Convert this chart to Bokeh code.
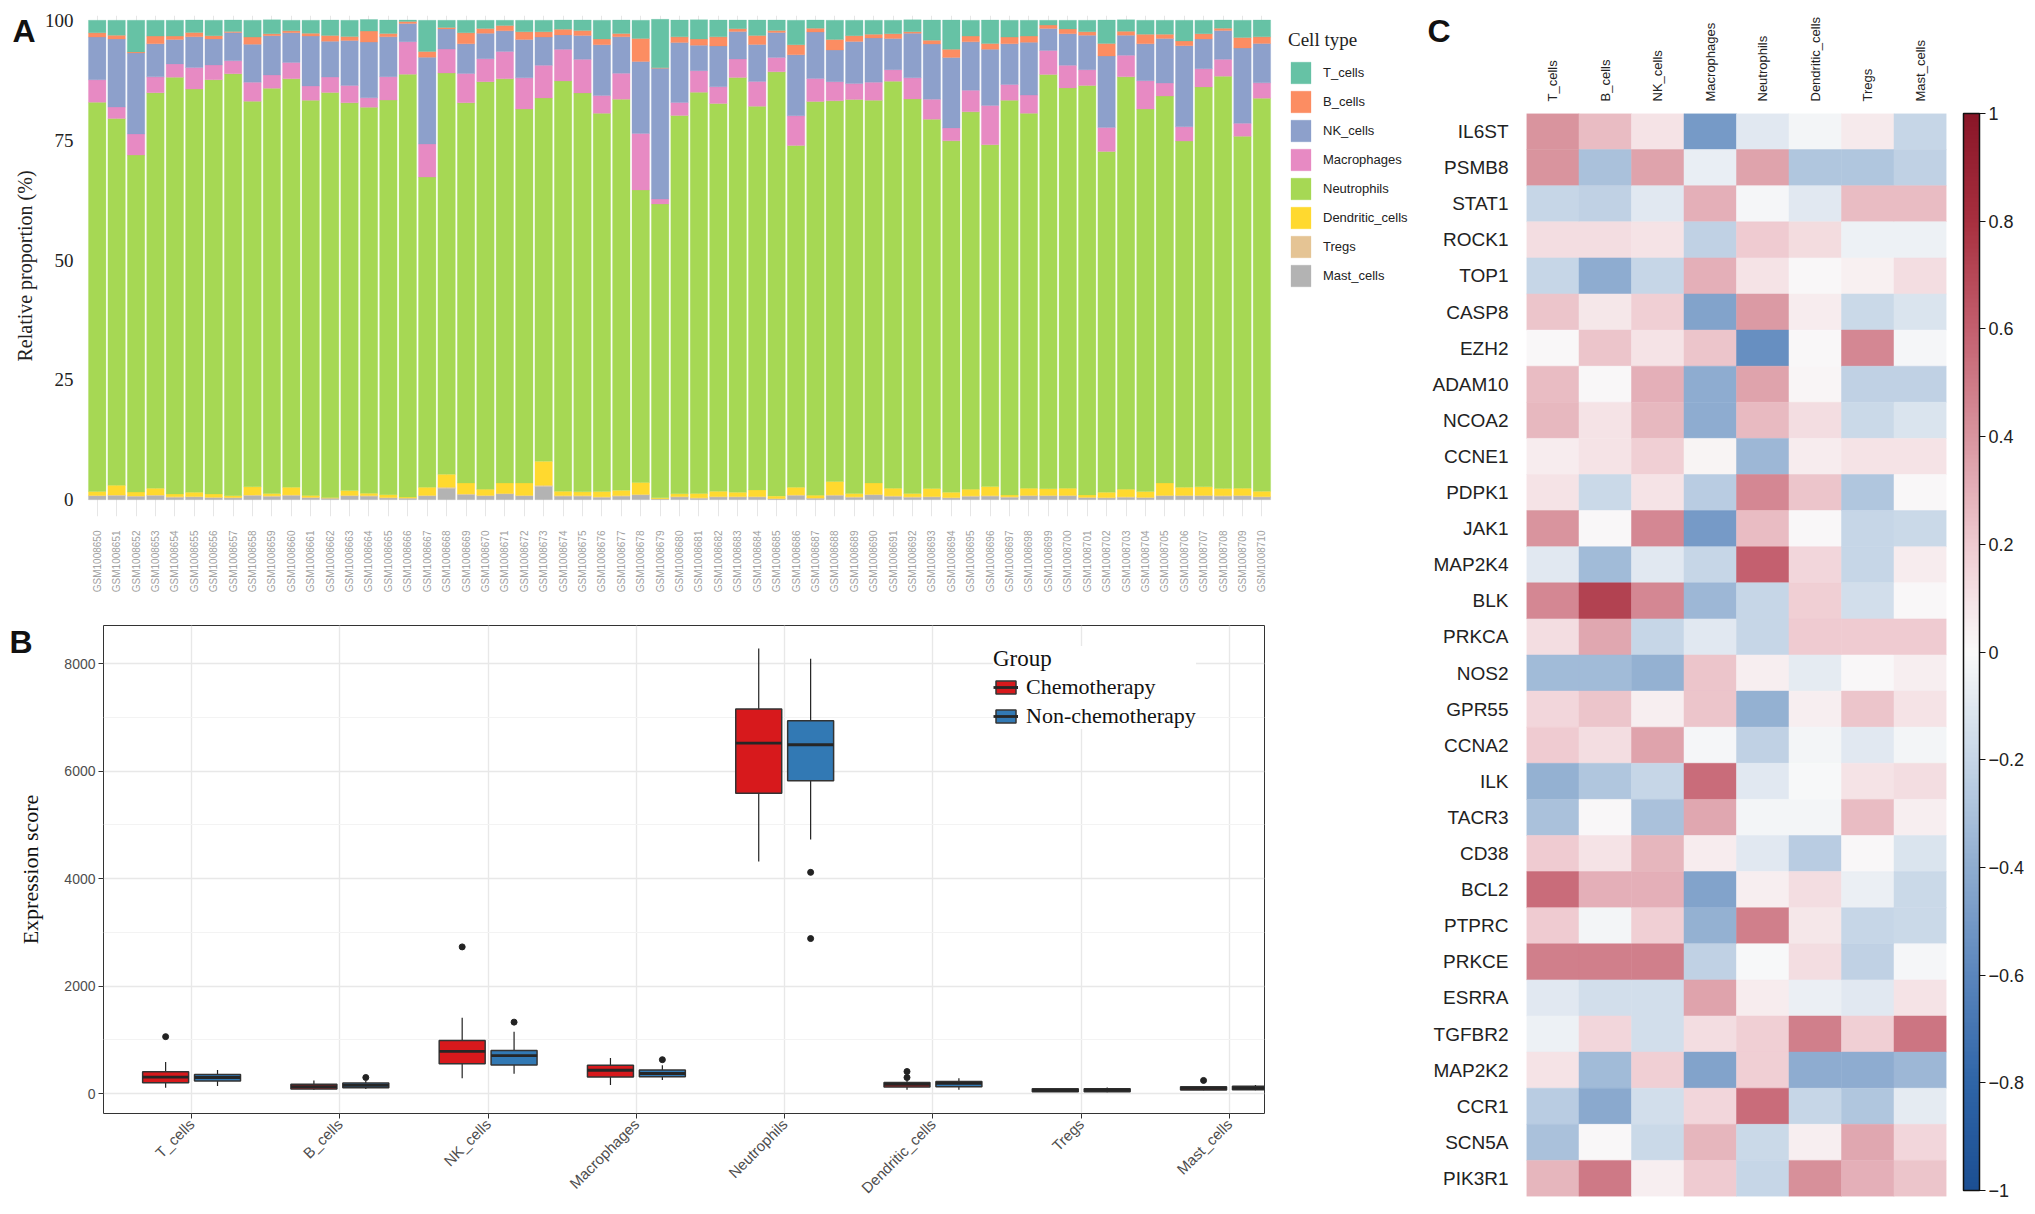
import numpy as np
from math import pi
from bokeh.plotting import figure
from bokeh.models import (ColumnDataSource, FactorRange, Range1d, FixedTicker, Legend,
                          LegendItem, LinearColorMapper, ColorBar)
from bokeh.transform import dodge
from bokeh.layouts import row, column
from bokeh.embed import file_html
from bokeh.resources import INLINE

SERIF = "Liberation Serif"
SANS = "Liberation Sans"

# ---------------- Panel A data (relative proportion, %) ----------------
samples = [f"GSM{n}" for n in range(1008650, 1008711)]
cell_types = ["T_cells", "B_cells", "NK_cells", "Macrophages", "Neutrophils",
              "Dendritic_cells", "Tregs", "Mast_cells"]
cell_colors = ["#66c2a5", "#fc8d62", "#8da0cb", "#e78ac3", "#a6d854",
               "#ffd92f", "#e5c494", "#b3b3b3"]

prop_T_cells = [2.6, 3.1, 6.6, 3.3, 3.3, 2.6, 3.2, 2.4, 3.5, 2.9,
                2.2, 2.7, 3.2, 3.4, 2.4, 2.8, 0.3, 6.5, 1.5, 2.6,
                1.7, 1.1, 2.4, 2.4, 1.9, 2.2, 3.9, 2.8, 3.8, 10.1,
                3.5, 4.0, 3.5, 1.8, 3.2, 2.2, 5.1, 1.7, 4.0, 3.2,
                2.9, 2.8, 2.5, 4.2, 6.1, 3.3, 4.9, 3.5, 3.3, 1.0,
                1.8, 2.4, 4.9, 2.4, 2.9, 2.9, 4.3, 2.8, 1.7, 3.6, 3.5]
prop_B_cells = [0.9, 0.8, 0.2, 1.6, 0.7, 0.9, 0.7, 0.2, 1.5, 0.4,
                0.4, 0.6, 1.2, 0.8, 2.3, 0.7, 0.4, 1.2, 0.3, 2.3,
                1.0, 1.1, 1.6, 1.1, 1.2, 1.0, 1.2, 0.7, 4.8, 0.1,
                1.2, 1.3, 1.9, 0.6, 1.9, 0.4, 2.1, 0.8, 2.2, 1.2,
                0.8, 1.0, 0.3, 0.8, 1.7, 1.2, 1.2, 1.4, 1.3, 0.7,
                1.0, 0.7, 2.6, 0.8, 2.0, 0.9, 1.0, 1.1, 0.5, 2.2, 1.4]
prop_NK_cells = [8.9, 14.2, 16.9, 6.9, 5.1, 6.4, 5.4, 5.9, 7.9, 8.2,
                 6.2, 10.4, 7.5, 9.4, 11.6, 8.3, 3.8, 18.1, 4.2, 6.2,
                 5.3, 4.3, 8.0, 5.9, 3.0, 5.0, 10.6, 7.6, 15.0, 27.3,
                 12.5, 5.3, 8.5, 5.7, 7.7, 5.2, 12.7, 9.7, 6.6, 8.8,
                 9.2, 6.5, 9.3, 11.5, 14.7, 10.1, 11.7, 8.5, 11.0, 4.6,
                 6.6, 7.2, 14.9, 4.2, 7.7, 9.3, 16.9, 6.2, 6.0, 15.7, 8.2]
prop_Macrophages = [4.7, 2.4, 4.4, 3.3, 2.8, 4.5, 3.1, 2.7, 4.0, 2.8,
                    3.4, 3.0, 3.2, 3.6, 2.0, 4.9, 6.8, 6.9, 5.0, 6.1,
                    4.8, 5.7, 6.5, 6.8, 6.6, 7.0, 3.7, 5.4, 11.8, 1.0,
                    2.7, 4.5, 3.5, 3.9, 5.2, 3.0, 6.2, 4.8, 4.0, 3.3,
                    3.8, 2.4, 4.4, 4.2, 2.7, 4.5, 8.2, 3.3, 3.8, 5.0,
                    4.7, 3.3, 5.0, 4.5, 5.9, 2.7, 3.0, 3.8, 3.5, 2.7, 3.2]
prop_Neutrophils = [81.2, 76.5, 70.3, 82.5, 86.9, 84.1, 86.4, 88.0, 80.4, 84.5,
                    85.2, 82.4, 84.5, 80.9, 80.5, 82.3, 88.2, 64.7, 83.7, 79.3,
                    85.0, 84.3, 78.0, 75.8, 85.6, 83.2, 78.9, 81.6, 61.0, 61.3,
                    78.9, 83.7, 80.9, 86.5, 80.0, 88.5, 71.3, 82.1, 79.4, 82.2,
                    79.8, 84.9, 82.3, 77.0, 73.3, 78.7, 71.3, 82.3, 78.2, 86.4,
                    83.5, 85.4, 71.1, 86.0, 79.8, 80.7, 72.2, 83.4, 86.0, 73.4, 82.0]
prop_Dendritic_cells = [0.8, 2.0, 0.8, 1.4, 0.6, 0.9, 0.7, 0.4, 1.7, 0.5,
                        1.6, 0.4, 0.1, 1.0, 0.5, 0.6, 0.2, 1.7, 2.7, 2.3,
                        1.3, 2.2, 2.6, 5.0, 0.9, 0.8, 1.1, 1.1, 2.5, 0.2,
                        0.6, 0.9, 1.1, 0.9, 1.4, 0.5, 1.6, 0.6, 2.8, 0.7,
                        2.4, 1.6, 0.7, 1.7, 1.1, 1.4, 1.9, 0.4, 1.5, 1.4,
                        1.5, 0.5, 1.1, 1.6, 1.2, 2.6, 1.7, 1.8, 1.5, 1.5, 1.1]
prop_Tregs = [0.1, 0.1, 0.1, 0.1, 0.1, 0.1, 0.1, 0.1, 0.1, 0.1,
              0.1, 0.1, 0.05, 0.1, 0.1, 0.1, 0.05, 0.1, 0.2, 0.1,
              0.1, 0.1, 0.1, 0.2, 0.1, 0.1, 0.1, 0.1, 0.1, 0.05,
              0.1, 0.1, 0.1, 0.1, 0.1, 0.05, 0.1, 0.05, 0.1, 0.1,
              0.1, 0.1, 0.1, 0.1, 0.1, 0.1, 0.1, 0.1, 0.1, 0.1,
              0.1, 0.1, 0.1, 0.1, 0.1, 0.1, 0.1, 0.1, 0.1, 0.1, 0.1]
prop_Mast_cells = [0.8, 0.9, 0.7, 0.9, 0.5, 0.55, 0.4, 0.35, 0.9, 0.7,
                   0.9, 0.4, 0.3, 0.8, 0.75, 0.35, 0.3, 0.8, 2.4, 1.1,
                   0.8, 1.2, 0.8, 2.8, 0.75, 0.75, 0.5, 0.75, 1.0, 0.15,
                   0.55, 0.3, 0.55, 0.55, 0.55, 0.2, 0.9, 0.3, 0.9, 0.5,
                   1.0, 0.7, 0.5, 0.55, 0.35, 0.7, 0.75, 0.5, 0.8, 0.8,
                   0.8, 0.4, 0.35, 0.5, 0.4, 0.8, 0.8, 0.8, 0.75, 0.8, 0.55]

# ---------------- Panel B data (expression score boxplots) ----------------
box_cells = ["T_cells", "B_cells", "NK_cells", "Macrophages", "Neutrophils",
             "Dendritic_cells", "Tregs", "Mast_cells"]
chemo_lower = [110, 74, 288, 159, 4319, 74, 31, 61]
chemo_q1 = [202, 86, 558, 307, 5590, 123, 37, 67]
chemo_median = [307, 129, 785, 435, 6520, 172, 61, 98]
chemo_q3 = [405, 172, 987, 527, 7155, 208, 92, 129]
chemo_upper = [589, 245, 1410, 662, 8280, 245, 104, 141]
chemo_out_cell = ["T_cells", "NK_cells", "Dendritic_cells", "Dendritic_cells", "Mast_cells"]
chemo_out_val = [1060, 2730, 411, 300, 245]

non_lower = [141, 86, 368, 251, 4730, 74, 25, 61]
non_q1 = [233, 110, 533, 313, 5822, 129, 37, 74]
non_median = [300, 153, 705, 374, 6491, 190, 67, 104]
non_q3 = [356, 196, 803, 441, 6939, 227, 92, 135]
non_upper = [441, 233, 1152, 527, 8090, 288, 116, 159]
non_out_cell = ["B_cells", "NK_cells", "Macrophages", "Neutrophils", "Neutrophils"]
non_out_val = [300, 1330, 631, 4117, 2885]

group_names = ["Chemotherapy", "Non-chemotherapy"]
group_colors = ["#d7191c", "#3279b4"]

# ---------------- Panel C data (correlation) ----------------
genes = ["IL6ST", "PSMB8", "STAT1", "ROCK1", "TOP1", "CASP8", "EZH2", "ADAM10", "NCOA2",
         "CCNE1", "PDPK1", "JAK1", "MAP2K4", "BLK", "PRKCA", "NOS2", "GPR55", "CCNA2",
         "ILK", "TACR3", "CD38", "BCL2", "PTPRC", "PRKCE", "ESRRA", "TGFBR2", "MAP2K2",
         "CCR1", "SCN5A", "PIK3R1"]
corr_T_cells = [0.40, 0.40, -0.20, 0.12, -0.20, 0.22, 0.01, 0.25, 0.27, 0.06, 0.10, 0.40,
                -0.10, 0.45, 0.12, -0.33, 0.15, 0.20, -0.38, -0.30, 0.20, 0.55, 0.20, 0.48,
                -0.10, -0.05, 0.10, -0.25, -0.30, 0.28]
corr_B_cells = [0.25, -0.30, -0.22, 0.12, -0.40, 0.08, 0.22, 0.01, 0.10, 0.10, -0.18, 0.01,
                -0.33, 0.72, 0.33, -0.33, 0.22, 0.12, -0.28, 0.01, 0.10, 0.30, -0.03, 0.48,
                -0.15, 0.15, -0.33, -0.42, 0.01, 0.50]
corr_NK_cells = [0.10, 0.35, -0.10, 0.10, -0.20, 0.18, 0.10, 0.30, 0.27, 0.18, 0.10, 0.45,
                 -0.10, 0.45, -0.20, -0.38, 0.05, 0.35, -0.20, -0.30, 0.28, 0.30, 0.18, 0.48,
                 -0.15, -0.15, 0.18, -0.15, -0.18, 0.05]
corr_Macrophages = [-0.50, -0.07, 0.30, -0.22, 0.30, -0.45, 0.22, -0.40, -0.40, 0.03, -0.25,
                    -0.50, -0.20, -0.35, -0.10, 0.22, 0.22, -0.02, 0.55, 0.33, 0.06, -0.45,
                    -0.38, -0.22, 0.35, 0.12, -0.45, 0.15, 0.28, 0.20]
corr_Neutrophils = [-0.10, 0.35, -0.02, 0.20, 0.10, 0.38, -0.55, 0.35, 0.26, -0.35, 0.45, 0.25,
                    0.60, -0.20, -0.20, 0.05, -0.38, -0.22, -0.10, -0.03, -0.10, 0.05, 0.48,
                    -0.01, 0.06, 0.18, 0.18, 0.55, -0.18, -0.20]
corr_Dendritic_cells = [-0.03, -0.28, -0.10, 0.13, 0.01, 0.06, 0.01, 0.02, 0.12, 0.06, 0.22,
                        0.01, 0.15, 0.18, 0.20, -0.08, 0.05, -0.03, -0.01, -0.03, -0.25, 0.12,
                        0.08, 0.12, -0.06, 0.48, -0.40, -0.20, 0.05, 0.42]
corr_Tregs = [0.07, -0.28, 0.25, -0.05, 0.04, -0.18, 0.45, -0.22, -0.18, 0.10, -0.28, -0.20,
              -0.20, -0.15, 0.20, 0.01, 0.22, -0.10, 0.10, 0.25, 0.01, -0.06, -0.20, -0.22,
              -0.10, 0.18, -0.40, -0.28, 0.33, 0.30]
corr_Mast_cells = [-0.20, -0.22, 0.25, -0.05, 0.12, -0.12, -0.02, -0.22, -0.12, 0.10, 0.01,
                   -0.18, 0.06, 0.01, 0.20, 0.05, 0.10, -0.03, 0.12, 0.05, -0.12, -0.18, -0.18,
                   -0.02, 0.10, 0.52, -0.35, -0.08, 0.15, 0.22]
cbar_ticks = [-1, -0.8, -0.6, -0.4, -0.2, 0, 0.2, 0.4, 0.6, 0.8, 1]

WA, HA = 1419, 607
WB, HB = 1419, 598
WC, HC = 607, 1205


def panel_letter(letter, x, y):
    """Bold panel letter drawn as the title of an empty, invisible colour bar."""
    return ColorBar(color_mapper=LinearColorMapper(palette=["#ffffff", "#ffffff"], low=0, high=1),
                    orientation="horizontal",
                    title=letter, title_text_font=SANS, title_text_font_size="32px",
                    title_text_font_style="bold", title_text_color="#111111", title_standoff=0,
                    width=2, height=2, location=(x, y), padding=0, margin=0,
                    ticker=FixedTicker(ticks=[]), major_tick_line_color=None,
                    minor_tick_line_color=None, bar_line_color=None, scale_alpha=0,
                    background_fill_alpha=0, border_line_color=None,
                    major_label_text_font_size="1px")


# =========================== Panel A ===========================
sample_pos = [i + 1 for i in range(len(samples))]
srcA = ColumnDataSource(dict(
    pos=sample_pos, T_cells=prop_T_cells, B_cells=prop_B_cells, NK_cells=prop_NK_cells,
    Macrophages=prop_Macrophages, Neutrophils=prop_Neutrophils,
    Dendritic_cells=prop_Dendritic_cells, Tregs=prop_Tregs, Mast_cells=prop_Mast_cells))

# the frame also holds the legend area on its right (bars occupy 0.5 .. 61.5)
pA = figure(width=WA, height=HA, frame_align=False,
            x_range=Range1d(0.5, 69.12), y_range=Range1d(-3.5, 101),
            output_backend="svg", toolbar_location=None,
            min_border_left=87, min_border_right=0, min_border_top=15, min_border_bottom=91)
stack_order = cell_types[::-1]
stack_colors = cell_colors[::-1]
rendA = pA.vbar_stack(stack_order, x="pos", width=0.9, source=srcA,
                      fill_color=stack_colors, line_color=stack_colors, line_width=0.3)
rmap = dict(zip(stack_order, rendA))
legA = Legend(items=[LegendItem(label=ct, renderers=[rmap[ct]]) for ct in cell_types],
              title="Cell type", location=(1201, 227), margin=0, padding=4,
              title_text_font=SERIF, title_text_font_size="19px", title_text_font_style="normal",
              title_text_color="#222222", title_standoff=8,
              label_text_font=SANS, label_text_font_size="13px", label_text_color="#222222",
              glyph_width=25, glyph_height=27, spacing=2, label_standoff=10,
              border_line_color=None, background_fill_alpha=0)
pA.add_layout(legA)

pA.outline_line_color = None
pA.yaxis.ticker = FixedTicker(ticks=[0, 25, 50, 75, 100])
pA.xaxis.ticker = FixedTicker(ticks=sample_pos)
pA.xaxis.major_label_overrides = {p: s for p, s in zip(sample_pos, samples)}
pA.ygrid.grid_line_color = None
pA.xgrid.grid_line_color = "#e6e6e6"
pA.yaxis.axis_label = "Relative proportion (%)"
pA.yaxis.axis_label_text_font = SERIF
pA.yaxis.axis_label_text_font_size = "20px"
pA.yaxis.axis_label_text_font_style = "normal"
pA.yaxis.axis_label_text_color = "#222222"
pA.yaxis.axis_label_standoff = 6
pA.yaxis.major_label_text_font = SERIF
pA.yaxis.major_label_text_font_size = "19px"
pA.yaxis.major_label_text_color = "#222222"
pA.yaxis.major_label_standoff = 8
for ax in (pA.xaxis, pA.yaxis):
    ax.axis_line_color = None
    ax.major_tick_line_color = None
    ax.minor_tick_line_color = None
pA.xaxis.major_label_orientation = pi / 2
pA.xaxis.major_label_text_font = SANS
pA.xaxis.major_label_text_font_size = "10px"
pA.xaxis.major_label_text_color = "#a0a0a0"
pA.xaxis.major_label_standoff = 8
pA.add_layout(panel_letter("A", -75, 466))

# =========================== Panel B ===========================
box_pos = [i + 1 for i in range(len(box_cells))]
pB = figure(width=WB, height=HB, frame_align=False,
            x_range=Range1d(0.406, 8.236), y_range=Range1d(-370, 8710),
            output_backend="svg", toolbar_location=None,
            min_border_left=103, min_border_right=155, min_border_top=18, min_border_bottom=87)
pB.outline_line_color = "#333333"
pB.outline_line_width = 1

group_data = [
    (chemo_lower, chemo_q1, chemo_median, chemo_q3, chemo_upper, chemo_out_cell, chemo_out_val, -0.175),
    (non_lower, non_q1, non_median, non_q3, non_upper, non_out_cell, non_out_val, 0.175),
]
legend_items_B = []
for (lo, q1, med, q3, up, oc, ov, off), gname, gcol in zip(group_data, group_names, group_colors):
    src = ColumnDataSource(dict(pos=box_pos, lower=lo, q1=q1, med=med, q3=q3, upper=up))
    pB.segment(x0=dodge("pos", off), x1=dodge("pos", off), y0="q3", y1="upper", source=src,
               line_color="#222222", line_width=1.2)
    pB.segment(x0=dodge("pos", off), x1=dodge("pos", off), y0="q1", y1="lower", source=src,
               line_color="#222222", line_width=1.2)
    rbox = pB.vbar(x=dodge("pos", off), width=0.31, top="q3", bottom="q1", source=src,
                   fill_color=gcol, line_color="#333333", line_width=1.5)
    rmed = pB.segment(x0=dodge("pos", off - 0.155), x1=dodge("pos", off + 0.155), y0="med",
                      y1="med", source=src, line_color="#262626", line_width=2.8)
    osrc = ColumnDataSource(dict(pos=[box_cells.index(c) + 1 for c in oc], val=ov))
    pB.scatter(x=dodge("pos", off), y="val", source=osrc, size=6, fill_color="#222222",
               line_color="#222222")
    legend_items_B.append(LegendItem(label=gname, renderers=[rbox, rmed]))

# location = bottom-left corner of the legend box, in pixels from the frame's bottom-left
legB = Legend(items=legend_items_B, title="Group", location=(890, 384), padding=8, margin=0,
              title_text_font=SERIF, title_text_font_size="23px", title_text_font_style="normal",
              title_text_color="#111111", title_standoff=2,
              label_text_font=SERIF, label_text_font_size="22px", label_text_color="#111111",
              glyph_width=25, glyph_height=16, spacing=3, label_standoff=8,
              border_line_color=None, background_fill_color="white", background_fill_alpha=1)
pB.add_layout(legB)

pB.xaxis.ticker = FixedTicker(ticks=box_pos)
pB.xaxis.major_label_overrides = {p: c for p, c in zip(box_pos, box_cells)}
pB.yaxis.ticker = FixedTicker(ticks=[0, 2000, 4000, 6000, 8000], minor_ticks=[1000, 3000, 5000, 7000])
pB.xgrid.grid_line_color = "#e8e8e8"
pB.xgrid.grid_line_width = 1.4
pB.ygrid.grid_line_color = "#e8e8e8"
pB.ygrid.grid_line_width = 1.4
pB.ygrid.minor_grid_line_color = "#f3f3f3"
pB.ygrid.minor_grid_line_width = 1.0
for ax in (pB.xaxis, pB.yaxis):
    ax.axis_line_color = None
    ax.major_tick_line_color = "#333333"
    ax.major_tick_out = 5
    ax.major_tick_in = 0
    ax.minor_tick_line_color = None
    ax.major_label_text_font = SANS
    ax.major_label_text_color = "#4d4d4d"
    ax.major_label_standoff = 3
pB.yaxis.major_label_text_font_size = "14px"
pB.xaxis.major_label_text_font_size = "15px"
pB.xaxis.major_label_orientation = pi / 4
pB.yaxis.axis_label = "Expression score"
pB.yaxis.axis_label_text_font = SERIF
pB.yaxis.axis_label_text_font_size = "22px"
pB.yaxis.axis_label_text_font_style = "normal"
pB.yaxis.axis_label_text_color = "#111111"
pB.yaxis.axis_label_standoff = 18
pB.add_layout(panel_letter("B", -94, 452))

# =========================== Panel C ===========================
anchor_v = np.array([-1, -0.8, -0.6, -0.4, -0.2, 0, 0.2, 0.4, 0.6, 0.8, 1])
anchor_c = ["#1c4f93", "#2f65a8", "#5b86bd", "#8fadd0", "#c6d6e7", "#fafafa",
            "#efcbd1", "#d9959f", "#c4606f", "#a8303f", "#8a1628"]
anchor_rgb = np.array([[int(c[i:i + 2], 16) for i in (1, 3, 5)] for c in anchor_c], dtype=float)
palette = []
for v in np.linspace(-1, 1, 256):
    rgb = [np.interp(v, anchor_v, anchor_rgb[:, k]) for k in range(3)]
    palette.append("#%02x%02x%02x" % tuple(int(round(x)) for x in rgb))
mapper = LinearColorMapper(palette=palette, low=-1, high=1)

corr_columns = [corr_T_cells, corr_B_cells, corr_NK_cells, corr_Macrophages, corr_Neutrophils,
                corr_Dendritic_cells, corr_Tregs, corr_Mast_cells]
hm_cell, hm_gene, hm_r = [], [], []
for ct, col in zip(cell_types, corr_columns):
    for g, r in zip(genes, col):
        hm_cell.append(ct)
        hm_gene.append(g)
        hm_r.append(r)
srcC = ColumnDataSource(dict(cell=hm_cell, gene=hm_gene, r=hm_r))

pC = figure(width=WC, height=HC, frame_align=False,
            x_range=FactorRange(*cell_types, range_padding=0),
            y_range=FactorRange(*genes[::-1], range_padding=0), x_axis_location="above",
            output_backend="svg", toolbar_location=None,
            min_border_left=107, min_border_right=80, min_border_top=113, min_border_bottom=9)
pC.rect(x="cell", y="gene", width=1, height=1, source=srcC,
        fill_color={"field": "r", "transform": mapper},
        line_color={"field": "r", "transform": mapper}, line_width=0.5)
pC.outline_line_color = None
pC.grid.grid_line_color = None
for ax in (pC.xaxis, pC.yaxis):
    ax.axis_line_color = None
    ax.major_tick_line_color = None
    ax.minor_tick_line_color = None
    ax.major_label_text_font = SANS
    ax.major_label_text_color = "#222222"
pC.xaxis.major_label_orientation = pi / 2
pC.xaxis.major_label_text_font_size = "13px"
pC.xaxis.major_label_standoff = 6
pC.yaxis.major_label_text_font_size = "19px"
pC.yaxis.major_label_standoff = 12

# location = bottom-left corner of the bar, in pixels from the frame's bottom-left
cbar = ColorBar(color_mapper=mapper, ticker=FixedTicker(ticks=cbar_ticks), width=16,
                location=(437, 6), height=1077, padding=0, margin=0,
                bar_line_color="#111111", bar_line_width=1.5,
                major_tick_line_color="#111111", major_tick_out=6, major_tick_in=0,
                minor_tick_line_color=None, label_standoff=3,
                major_label_text_font=SANS, major_label_text_font_size="18px",
                major_label_text_color="#222222", background_fill_alpha=0)
pC.add_layout(cbar)
pC.add_layout(panel_letter("C", -99, 1146))

layout = row(column(pA, pB), pC)
open("out.html", "w").write(file_html(layout, INLINE))
